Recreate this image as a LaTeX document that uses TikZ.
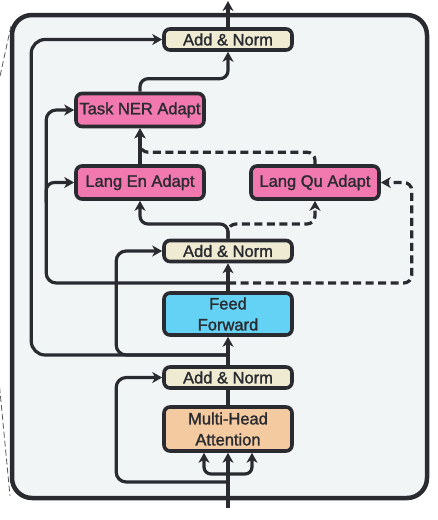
\documentclass[tikz,border=0pt]{standalone}
\usepackage{fontspec}
\setmainfont{Liberation Sans}
\newfontfamily\lblfont{Liberation Sans}[FakeBold=1.5]
\usetikzlibrary{arrows.meta}
\definecolor{ink}{HTML}{2A2B30}
\definecolor{panel}{HTML}{F2F5F6}
\definecolor{normc}{HTML}{EFEBD3}
\definecolor{adaptc}{HTML}{F279AF}
\definecolor{ffc}{HTML}{64D2F4}
\definecolor{attc}{HTML}{F4CBA0}

\begin{document}
\begin{tikzpicture}[x=1pt,y=-1pt,
  blk/.style={draw=ink,line width=3.6pt,rounded corners=6pt,minimum width=128pt,
    inner sep=0pt,text=ink,align=center,font=\lblfont\fontsize{16.5}{21}\selectfont},
  addnorm/.style={blk,fill=normc,minimum height=21pt},
  adapt/.style={blk,fill=adaptc,minimum height=33pt},
  wire/.style={draw=ink,line width=3.2pt,rounded corners=8pt},
  arr/.style={wire,-{Stealth[length=10pt,width=11pt,inset=3pt]}},
  dashwire/.style={arr,dash pattern=on 8pt off 4.5pt}]
\useasboundingbox (0,0) rectangle (438,520);
\begin{scope}
\clip (0,0) rectangle (438,520);
\draw[gray!70!black,line width=0.8pt,dash pattern=on 6pt off 3pt] (11,26) -- (-3,90);
\draw[gray!70!black,line width=0.8pt,dash pattern=on 6pt off 3pt] (-3,360) -- (10,496);
\end{scope}
\draw[draw=ink,fill=panel,line width=4.5pt,rounded corners=20pt] (12,15) rectangle (427,498);

\node[addnorm] (addtop) at (228,39.5) {Add \& Norm};
\node[adapt] (ner) at (140,110) {Task NER Adapt};
\node[adapt] (langen) at (140,182.5) {Lang En Adapt};
\node[adapt] (langqu) at (315,182.5) {Lang Qu Adapt};
\node[addnorm] (addmid) at (228,251) {Add \& Norm};
\node[blk,fill=ffc,minimum height=42pt] (ff) at (228,314) {Feed\\Forward};
\node[addnorm] (addbot) at (228,377.5) {Add \& Norm};
\node[blk,fill=attc,minimum height=44pt] (mha) at (228,429) {Multi-Head\\Attention};

\coordinate (in) at (228,508);
\coordinate (out) at (228,1);
\coordinate (res1) at (228,482);
\coordinate (split) at (228,474);
\coordinate (res2) at (228,355);
\coordinate (res3) at (228,283);
\coordinate (split2) at (228,224);

\draw[arr] (in) -- (mha.south);
\draw[arr,rounded corners=7pt] (split) -| ([xshift=-24pt]mha.south);
\draw[arr,rounded corners=7pt] (split) -| ([xshift=24pt]mha.south);
\draw[arr,rounded corners=10pt] (res1) -| ([xshift=-46pt]addbot.west) -- (addbot.west);
\draw[wire] (mha.north) -- (addbot.south);
\draw[arr] (addbot.north) -- (ff.south);
\draw[arr,rounded corners=10pt] (res2) -| ([xshift=-46pt]addmid.west) -- (addmid.west);
\draw[arr,rounded corners=14pt] (res2) -| ([xshift=-131pt]addtop.west) -- (addtop.west);
\draw[arr] (ff.north) -- (addmid.south);
\draw[dashwire] (res3) -| ([xshift=31pt]langqu.east) -- (langqu.east);
\draw[arr,rounded corners=10pt] (res3) -| ([xshift=-28pt]ner.west) -- (ner.west);
\draw[arr] ([xshift=-28pt,yshift=-20pt]langen.west) |- (langen.west);
\draw[dashwire] (addmid.north) -- (split2) -| (langqu.south);
\draw[arr] (addmid.north) -- (split2) -| (langen.south);
\draw[dashwire] (langqu.north) -- ++(0,-12) -| (ner.south);
\draw[arr] (langen.north) -- (ner.south);
\draw[arr] (ner.north) -- ++(0,-13) -| (addtop.south);
\draw[arr] (addtop.north) -- (out);
\end{tikzpicture}
\end{document}
